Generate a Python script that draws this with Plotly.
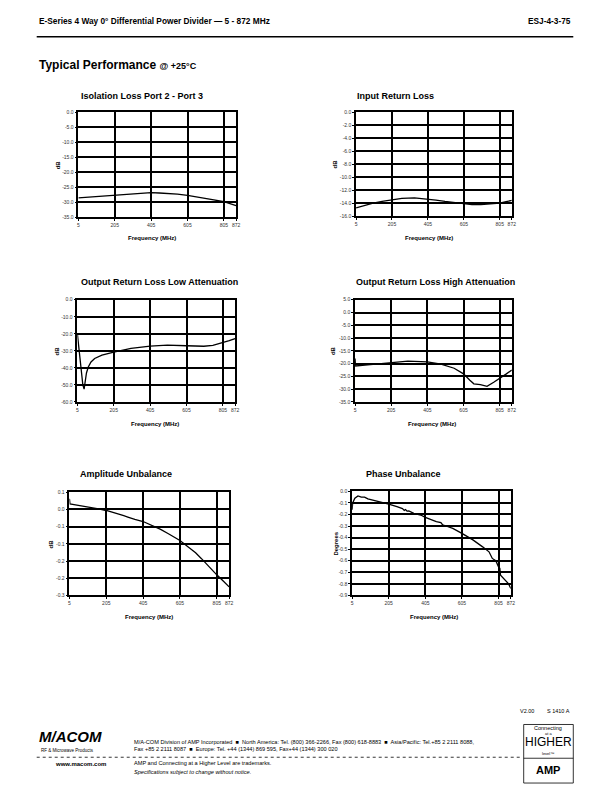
import plotly.graph_objects as go

W, H = 612, 792
FONT = "Liberation Sans, Arial, sans-serif"

# ---------------- data ----------------
freq_ticks = [5, 205, 405, 605, 805, 872]
freq_ticktext = ["5", "205", "405", "605", "805", "872"]

# Isolation Loss Port 2 - Port 3
iso_f = [5, 50, 100, 150, 205, 260, 320, 380, 405, 450, 500, 550, 605, 650, 700, 750, 805, 840, 872]
iso_db = [-28.5, -28.3, -28.0, -27.8, -27.6, -27.3, -27.0, -26.9, -26.8, -26.9, -27.0, -27.3,
          -27.7, -28.1, -28.7, -29.2, -29.8, -30.4, -31.1]
iso_yticks = [0, -5, -10, -15, -20, -25, -30, -35]
iso_ytext = ["0.0", "-5.0", "-10.0", "-15.0", "-20.0", "-25.0", "-30.0", "-35.0"]

# Input Return Loss
irl_f = [5, 30, 60, 100, 150, 205, 260, 330, 405, 450, 500, 550, 605, 650, 700, 750, 805, 840, 872]
irl_db = [-14.7, -14.5, -14.2, -13.95, -13.7, -13.45, -13.25, -13.15, -13.3, -13.5, -13.7, -13.9,
          -14.1, -14.2, -14.2, -14.1, -13.95, -13.75, -13.55]
irl_yticks = [0, -2, -4, -6, -8, -10, -12, -14, -16]
irl_ytext = ["0.0", "-2.0", "-4.0", "-6.0", "-8.0", "-10.0", "-12.0", "-14.0", "-16.0"]

# Output Return Loss Low Attenuation
orl_lo_f = [5, 15, 25, 35, 42, 48, 55, 65, 80, 100, 140, 205, 300, 405, 500, 605, 700, 750, 805, 840, 872]
orl_lo_db = [-20.0, -30.0, -41.0, -50.0, -52.5, -48.0, -43.0, -39.5, -36.5, -34.5, -32.5, -30.8,
             -28.6, -27.2, -26.6, -27.0, -27.3, -26.8, -25.3, -24.0, -22.8]
orl_lo_yticks = [0, -10, -20, -30, -40, -50, -60]
orl_lo_ytext = ["0.0", "-10.0", "-20.0", "-30.0", "-40.0", "-50.0", "-60.0"]

# Output Return Loss High Attenuation
orl_hi_f = [5, 8, 60, 115, 205, 297, 405, 480, 553, 605, 640, 662, 698, 735, 772, 808, 840, 872]
orl_hi_db = [-18.0, -20.9, -20.6, -20.2, -19.4, -19.0, -19.3, -20.2, -21.8, -24.0, -26.5, -27.9,
             -28.2, -28.9, -27.3, -25.7, -24.1, -22.5]
orl_hi_yticks = [5, 0, -5, -10, -15, -20, -25, -30, -35]
orl_hi_ytext = ["5.0", "0.0", "-5.0", "-10.0", "-15.0", "-20.0", "-25.0", "-30.0", "-35.0"]

# Amplitude Unbalance
amp_f = [5, 8, 30, 55, 80, 109, 135, 163, 205, 240, 268, 300, 322, 360, 405, 440, 468, 500, 540,
         575, 605, 650, 690, 722, 760, 805, 840, 872]
amp_db = [0.031, 0.016, 0.014, 0.012, 0.010, 0.007, 0.004, 0.002, -0.003, -0.008, -0.013, -0.018,
          -0.022, -0.029, -0.035, -0.043, -0.049, -0.058, -0.070, -0.080, -0.090, -0.109, -0.126,
          -0.143, -0.165, -0.190, -0.208, -0.225]
amp_yticks = [0.05, 0.0, -0.05, -0.1, -0.15, -0.2, -0.25]
amp_ytext = ["0.1", "0.0", "-0.1", "-0.1", "-0.2", "-0.2", "-0.3"]

# Phase Unbalance
ph_f = [5, 8, 20, 37, 55, 73, 91, 127, 163, 205, 250, 280, 290, 297, 305, 315, 342, 380, 405, 440,
        465, 490, 500, 518, 555, 605, 665, 718, 753, 771, 790, 805, 812, 816, 825, 843, 860, 872]
ph_deg = [-0.16, -0.10, -0.06, -0.04, -0.05, -0.05, -0.066, -0.081, -0.09, -0.11, -0.133, -0.15,
          -0.165, -0.158, -0.172, -0.17, -0.19, -0.205, -0.225, -0.245, -0.263, -0.27, -0.29,
          -0.30, -0.32, -0.364, -0.42, -0.48, -0.523, -0.58, -0.60, -0.653, -0.665, -0.725,
          -0.74, -0.77, -0.80, -0.84]
ph_yticks = [0.0, -0.1, -0.2, -0.3, -0.4, -0.5, -0.6, -0.7, -0.8, -0.9]
ph_ytext = ["0.0", "-0.1", "-0.2", "-0.3", "-0.4", "-0.5", "-0.6", "-0.7", "-0.8", "-0.9"]

charts = [
    dict(title="Isolation Loss Port 2 - Port 3", ytitle="dB", x=iso_f, y=iso_db,
         yt=iso_yticks, ytt=iso_ytext, yr=[-35, 0]),
    dict(title="Input Return Loss", ytitle="dB", x=irl_f, y=irl_db,
         yt=irl_yticks, ytt=irl_ytext, yr=[-16, 0]),
    dict(title="Output Return Loss Low Attenuation", ytitle="dB", x=orl_lo_f, y=orl_lo_db,
         yt=orl_lo_yticks, ytt=orl_lo_ytext, yr=[-60, 0]),
    dict(title="Output Return Loss High Attenuation", ytitle="dB", x=orl_hi_f, y=orl_hi_db,
         yt=orl_hi_yticks, ytt=orl_hi_ytext, yr=[-35, 5]),
    dict(title="Amplitude Unbalance", ytitle="dB", x=amp_f, y=amp_db,
         yt=amp_yticks, ytt=amp_ytext, yr=[-0.25, 0.05]),
    dict(title="Phase Unbalance", ytitle="Degrees", x=ph_f, y=ph_deg,
         yt=ph_yticks, ytt=ph_ytext, yr=[-0.9, 0.0]),
]

# ---------------- layout geometry (pixels) ----------------
boxes = [(78, 237, 110, 216), (358, 515, 110, 215), (77, 236, 299, 402),
         (357, 515, 299, 402), (69, 230, 493, 597), (354, 514, 492, 597)]
title_pos = [(79, 94), (357, 94), (79, 281), (356, 281), (78, 475), (366, 475)]
ytitle_x = [57, 337, 56, 335, 50, 338]
xtitle_pos = [(152, 237), (432, 237), (155, 424), (435, 424), (149, 619), (437, 619)]


def PX(x):
    return x / W


def PY(y):
    return 1 - y / H


fig = go.Figure()
layout = dict(width=W, height=H, margin=dict(l=0, r=0, t=0, b=0),
              paper_bgcolor="white", plot_bgcolor="white", showlegend=False,
              font=dict(family=FONT, color="black"))
annotations = []
shapes = []

for i, c in enumerate(charts):
    n = i + 1
    l, r, t, b = boxes[i]
    fig.add_trace(go.Scatter(x=c["x"], y=c["y"], mode="lines",
                             line=dict(color="black", width=1.3),
                             xaxis=f"x{n}", yaxis=f"y{n}", hoverinfo="skip"))
    layout[f"xaxis{n}"] = dict(domain=[PX(l), PX(r)], range=[5, 872], anchor=f"y{n}",
                               tickmode="array", tickvals=freq_ticks, ticktext=freq_ticktext,
                               showgrid=True, gridcolor="black", gridwidth=1.6,
                               showline=True, linecolor="black", linewidth=1.6, mirror=True,
                               zeroline=False, ticks="outside", ticklen=2, tickcolor="black",
                               tickfont=dict(size=5, family=FONT, color="#333"))
    layout[f"yaxis{n}"] = dict(domain=[PY(b), PY(t)], range=c["yr"], anchor=f"x{n}",
                               tickmode="array", tickvals=c["yt"], ticktext=c["ytt"],
                               showgrid=True, gridcolor="black", gridwidth=1.6,
                               showline=True, linecolor="black", linewidth=1.6, mirror=True,
                               zeroline=False, ticks="outside", ticklen=2, tickcolor="black",
                               tickfont=dict(size=5, family=FONT, color="#333"))
    tx, ty = title_pos[i]
    annotations.append(dict(text=f"<b>{c['title']}</b>", x=PX(tx), y=PY(ty), xref="paper",
                            yref="paper", xanchor="left", yanchor="middle", showarrow=False,
                            font=dict(size=9, family=FONT)))
    annotations.append(dict(text=f"<b>{c['ytitle']}</b>", x=PX(ytitle_x[i]), y=PY((t + b) / 2),
                            xref="paper", yref="paper", xanchor="center", yanchor="middle",
                            textangle=-90, showarrow=False, font=dict(size=6, family=FONT)))
    fx, fy = xtitle_pos[i]
    annotations.append(dict(text="<b>Frequency (MHz)</b>", x=PX(fx), y=PY(fy), xref="paper",
                            yref="paper", xanchor="center", yanchor="middle", showarrow=False,
                            font=dict(size=6, family=FONT)))

# header
annotations.append(dict(text="<b>E-Series 4 Way 0° Differential Power Divider — 5 - 872 MHz</b>",
                        x=PX(36), y=PY(18), xref="paper", yref="paper", xanchor="left",
                        yanchor="middle", showarrow=False, font=dict(size=8.3, family=FONT)))
annotations.append(dict(text="<b>ESJ-4-3-75</b>", x=PX(577), y=PY(18), xref="paper",
                        yref="paper", xanchor="right", yanchor="middle", showarrow=False,
                        font=dict(size=8.3, family=FONT)))
shapes.append(dict(type="line", xref="paper", yref="paper", x0=PX(36), x1=PX(577),
                   y0=PY(34), y1=PY(34), line=dict(color="black", width=1.5)))
annotations.append(dict(text="<b>Typical Performance</b> <b><span style='font-size:9px'>@ +25°C</span></b>",
                        x=PX(36), y=PY(62), xref="paper", yref="paper", xanchor="left",
                        yanchor="middle", showarrow=False, font=dict(size=12, family=FONT)))

# footer
annotations.append(dict(text="V2.00", x=PX(521), y=PY(713), xref="paper", yref="paper",
                        xanchor="left", yanchor="middle", showarrow=False,
                        font=dict(size=5.5, family=FONT)))
annotations.append(dict(text="S 1410 A", x=PX(576), y=PY(713), xref="paper", yref="paper",
                        xanchor="right", yanchor="middle", showarrow=False,
                        font=dict(size=5.5, family=FONT)))
annotations.append(dict(text="<b><i>M/ACOM</i></b>", x=PX(36), y=PY(739), xref="paper",
                        yref="paper", xanchor="left", yanchor="middle", showarrow=False,
                        font=dict(size=15, family=FONT)))
annotations.append(dict(text="RF &amp; Microwave Products", x=PX(96), y=PY(753), xref="paper",
                        yref="paper", xanchor="right", yanchor="middle", showarrow=False,
                        font=dict(size=4.5, family=FONT)))
annotations.append(dict(text="M/A-COM Division of AMP Incorporated  ■  North America: Tel. (800) 366-2266, Fax (800) 618-8883  ■  Asia/Pacific: Tel.+85 2 2111 8088,",
                        x=PX(132), y=PY(745), xref="paper", yref="paper", xanchor="left",
                        yanchor="middle", showarrow=False, font=dict(size=5.6, family=FONT)))
annotations.append(dict(text="Fax +85 2 2111 8087  ■  Europe: Tel. +44 (1344) 869 595, Fax+44 (1344) 300 020",
                        x=PX(132), y=PY(752), xref="paper", yref="paper", xanchor="left",
                        yanchor="middle", showarrow=False, font=dict(size=5.6, family=FONT)))
shapes.append(dict(type="line", xref="paper", yref="paper", x0=PX(36), x1=PX(524),
                   y0=PY(760), y1=PY(760), line=dict(color="black", width=0.8, dash="dot")))
annotations.append(dict(text="<b>www.macom.com</b>", x=PX(52), y=PY(767), xref="paper",
                        yref="paper", xanchor="left", yanchor="middle", showarrow=False,
                        font=dict(size=6, family=FONT)))
annotations.append(dict(text="AMP and Connecting at a Higher Level are trademarks.",
                        x=PX(132), y=PY(766), xref="paper", yref="paper", xanchor="left",
                        yanchor="middle", showarrow=False, font=dict(size=5.6, family=FONT)))
annotations.append(dict(text="<i>Specifications subject to change without notice.</i>",
                        x=PX(132), y=PY(775), xref="paper", yref="paper", xanchor="left",
                        yanchor="middle", showarrow=False, font=dict(size=5.6, family=FONT)))
# AMP box
shapes.append(dict(type="rect", xref="paper", yref="paper", x0=PX(527), x1=PX(577),
                   y0=PY(786), y1=PY(727), line=dict(color="black", width=0.8)))
shapes.append(dict(type="line", xref="paper", yref="paper", x0=PX(527), x1=PX(577),
                   y0=PY(761), y1=PY(761), line=dict(color="black", width=0.8)))
for txt, yy, sz in [("Connecting", 731, 5.5), ("at a", 736, 4), ("HIGHER", 745, 12), ("level™", 756, 4)]:
    annotations.append(dict(text=txt, x=PX(552), y=PY(yy), xref="paper", yref="paper",
                            xanchor="center", yanchor="middle", showarrow=False,
                            font=dict(size=sz, family=FONT)))
annotations.append(dict(text="<b>AMP</b>", x=PX(552), y=PY(773), xref="paper", yref="paper",
                        xanchor="center", yanchor="middle", showarrow=False,
                        font=dict(size=11, family=FONT)))

layout["annotations"] = annotations
layout["shapes"] = shapes
fig.update_layout(**layout)
fig.write_html("out.html")
